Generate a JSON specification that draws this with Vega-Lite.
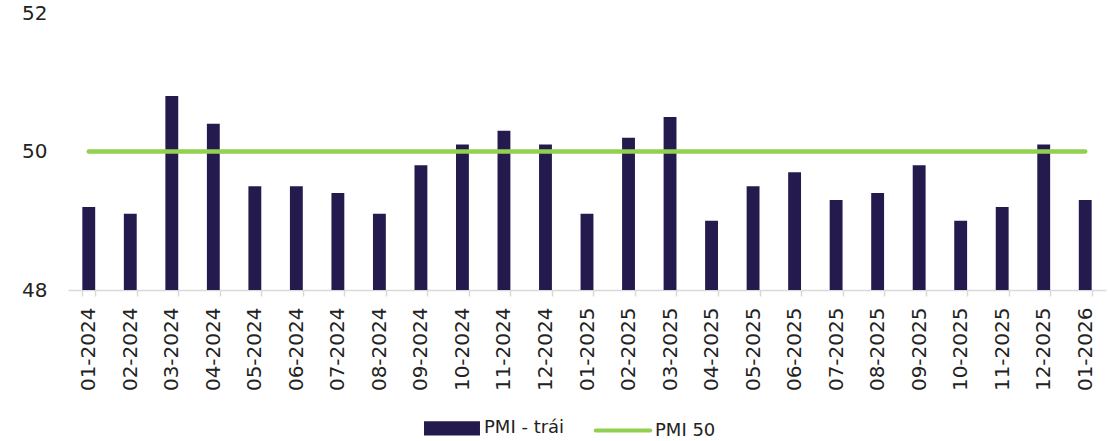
{
  "$schema": "https://vega.github.io/schema/vega-lite/v6.json",
  "autosize": {"type": "none"},
  "width": 1038,
  "height": 277,
  "padding": {"left": 68, "top": 13, "right": 4, "bottom": 151},
  "background": "white",
  "config": {
    "view": {"stroke": null},
    "font": "DejaVu Sans",
    "axis": {"labelFont": "DejaVu Sans", "labelColor": "#222222", "title": null}
  },
  "data": {
    "values": [
      {"month": "01-2024", "pmi": 49.2, "ref": 50},
      {"month": "02-2024", "pmi": 49.1, "ref": 50},
      {"month": "03-2024", "pmi": 50.8, "ref": 50},
      {"month": "04-2024", "pmi": 50.4, "ref": 50},
      {"month": "05-2024", "pmi": 49.5, "ref": 50},
      {"month": "06-2024", "pmi": 49.5, "ref": 50},
      {"month": "07-2024", "pmi": 49.4, "ref": 50},
      {"month": "08-2024", "pmi": 49.1, "ref": 50},
      {"month": "09-2024", "pmi": 49.8, "ref": 50},
      {"month": "10-2024", "pmi": 50.1, "ref": 50},
      {"month": "11-2024", "pmi": 50.3, "ref": 50},
      {"month": "12-2024", "pmi": 50.1, "ref": 50},
      {"month": "01-2025", "pmi": 49.1, "ref": 50},
      {"month": "02-2025", "pmi": 50.2, "ref": 50},
      {"month": "03-2025", "pmi": 50.5, "ref": 50},
      {"month": "04-2025", "pmi": 49.0, "ref": 50},
      {"month": "05-2025", "pmi": 49.5, "ref": 50},
      {"month": "06-2025", "pmi": 49.7, "ref": 50},
      {"month": "07-2025", "pmi": 49.3, "ref": 50},
      {"month": "08-2025", "pmi": 49.4, "ref": 50},
      {"month": "09-2025", "pmi": 49.8, "ref": 50},
      {"month": "10-2025", "pmi": 49.0, "ref": 50},
      {"month": "11-2025", "pmi": 49.2, "ref": 50},
      {"month": "12-2025", "pmi": 50.1, "ref": 50},
      {"month": "01-2026", "pmi": 49.3, "ref": 50}
    ]
  },
  "encoding": {
    "x": {
      "field": "month",
      "type": "ordinal",
      "sort": null,
      "scale": {"paddingInner": 0.69, "paddingOuter": 0.345},
      "axis": {
        "title": null,
        "labelAngle": -90,
        "labelFontSize": 20,
        "labelPadding": 11,
        "tickBand": "extent",
        "tickSize": 6,
        "tickColor": "#d9d9d9",
        "domainColor": "#d9d9d9",
        "domainWidth": 1.5,
        "tickWidth": 1.5
      }
    }
  },
  "layer": [
    {
      "mark": {"type": "bar", "clip": true},
      "encoding": {
        "y": {
          "field": "pmi",
          "type": "quantitative",
          "scale": {"domain": [48, 52], "zero": false, "nice": false},
          "axis": {
            "title": null,
            "values": [48, 50, 52],
            "format": "d",
            "domain": false,
            "ticks": false,
            "grid": false,
            "labelFontSize": 20,
            "labelPadding": 21
          }
        },
        "color": {
          "datum": "PMI - trái",
          "type": "nominal",
          "scale": {"domain": ["PMI - trái", "PMI 50"], "range": ["#251a4e", "#92d050"]},
          "legend": {
            "title": null,
            "orient": "none",
            "direction": "horizontal",
            "legendX": 356,
            "legendY": 387,
            "padding": 0,
            "labelFont": "DejaVu Sans",
            "labelFontSize": 18,
            "labelColor": "#222222",
            "labelOffset": 4,
            "columnPadding": 22,
            "symbolSize": 2700,
            "encode": {
              "symbols": {
                "update": {
                  "shape": {"signal": "datum.value === 'PMI 50' ? 'M-1.05,0H1.05' : 'M-1,-0.2H1V0.2H-1Z'"},
                  "fill": {"signal": "datum.value === 'PMI 50' ? 'transparent' : '#251a4e'"},
                  "stroke": {"signal": "datum.value === 'PMI 50' ? '#92d050' : 'transparent'"},
                  "strokeWidth": {"value": 4},
                  "strokeCap": {"value": "round"},
                  "opacity": {"value": 1}
                }
              }
            }
          }
        }
      }
    },
    {
      "mark": {"type": "line", "strokeWidth": 4.5, "strokeCap": "round"},
      "encoding": {
        "y": {"field": "ref", "type": "quantitative", "axis": {"title": null, "values": [48, 50, 52], "format": "d", "domain": false, "ticks": false, "grid": false, "labelFontSize": 20, "labelPadding": 21}},
        "color": {"datum": "PMI 50", "type": "nominal"}
      }
    }
  ]
}
